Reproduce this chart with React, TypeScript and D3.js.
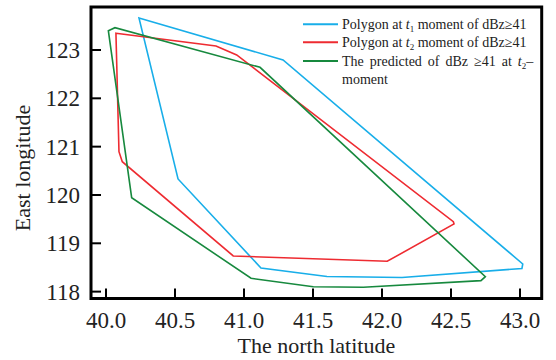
import React from "react";
import * as d3 from "d3";

const xTicks = [40.0, 40.5, 41.0, 41.5, 42.0, 42.5, 43.0];
const yTicks = [118, 119, 120, 121, 122, 123];

// [latitude, longitude]
const polygonT1: [number, number][] = [
  [40.239, 123.662], [41.283, 122.793], [43.02, 118.572], [43.014, 118.479],
  [42.145, 118.293], [41.601, 118.313], [41.123, 118.489], [40.522, 120.331],
];
const polygonT2: [number, number][] = [
  [40.072, 123.346], [40.797, 123.083], [40.947, 122.897], [42.517, 119.447],
  [42.522, 119.4], [42.038, 118.628], [40.922, 118.738], [40.118, 120.689],
  [40.094, 120.896],
];
const polygonPred: [number, number][] = [
  [40.017, 123.399], [40.065, 123.461], [41.116, 122.642], [42.749, 118.309],
  [42.717, 118.227], [41.865, 118.09], [41.502, 118.102], [41.051, 118.276],
  [40.186, 119.944],
];

const series = [
  { data: polygonT1, color: "#18aee9" },
  { data: polygonT2, color: "#ee2b31" },
  { data: polygonPred, color: "#17893e" },
];

export default function App() {
  const W = 556, H = 360;
  const left = 91, right = 541.7, top = 7, bottom = 298.5;
  const x = d3.scaleLinear().domain([40, 43]).range([106, 520]);
  const y = d3.scaleLinear().domain([123, 119]).range([50, 243.3]);
  const line = d3.line<[number, number]>()
    .x((d) => x(d[0]))
    .y((d) => y(d[1]))
    .curve(d3.curveLinearClosed);
  const font = "'Liberation Serif', 'DejaVu Serif', serif";

  return (
    <svg width={W} height={H} style={{ position: "absolute", left: 0, top: 0 }} fontFamily={font}>
      <rect x={0} y={0} width={W} height={H} fill="#fff" />
      {series.map((s, i) => (
        <path key={i} d={line(s.data) || ""} fill="none" stroke={s.color} strokeWidth={1.6} strokeLinejoin="miter" />
      ))}
      {/* ticks */}
      {yTicks.map((t) => (
        <g key={"y" + t}>
          <line x1={left} x2={left + 10} y1={y(t)} y2={y(t)} stroke="#000" strokeWidth={2} />
          <text x={80} y={y(t) + 8} textAnchor="end" fontSize={23} fill="#222">{t}</text>
        </g>
      ))}
      {xTicks.map((t) => (
        <g key={"x" + t}>
          <line x1={x(t)} x2={x(t)} y1={bottom} y2={bottom - 10} stroke="#000" strokeWidth={2} />
          <text x={x(t)} y={328} textAnchor="middle" fontSize={23} fill="#222">{t.toFixed(1)}</text>
        </g>
      ))}
      <rect x={left} y={top} width={right - left} height={bottom - top} fill="none" stroke="#000" strokeWidth={3} />
      <text x={(left + right) / 2} y={353} textAnchor="middle" fontSize={22} fill="#222">The north latitude</text>
      <text transform={`translate(30,168) rotate(-90)`} textAnchor="middle" fontSize={22} fill="#222">East longitude</text>
      {/* legend */}
      <g fontSize={14} fill="#222">
        <line x1={303} x2={338} y1={24.3} y2={24.3} stroke={series[0].color} strokeWidth={2} />
        <text x={342} y={29}>Polygon at <tspan fontStyle="italic">t</tspan><tspan fontSize={9} dy={3}>1</tspan><tspan dy={-3}> moment of dBz≥41</tspan></text>
        <line x1={303} x2={338} y1={42.3} y2={42.3} stroke={series[1].color} strokeWidth={2} />
        <text x={342} y={47}>Polygon at <tspan fontStyle="italic">t</tspan><tspan fontSize={9} dy={3}>2</tspan><tspan dy={-3}> moment of dBz≥41</tspan></text>
        <line x1={303} x2={338} y1={61} y2={61} stroke={series[2].color} strokeWidth={2} />
        <text x={342} y={66} wordSpacing={2.5}>The predicted of dBz ≥41 at <tspan fontStyle="italic">t</tspan><tspan fontSize={9} dy={3}>2</tspan><tspan dy={-3}>–</tspan></text>
        <text x={342} y={84}>moment</text>
      </g>
    </svg>
  );
}
